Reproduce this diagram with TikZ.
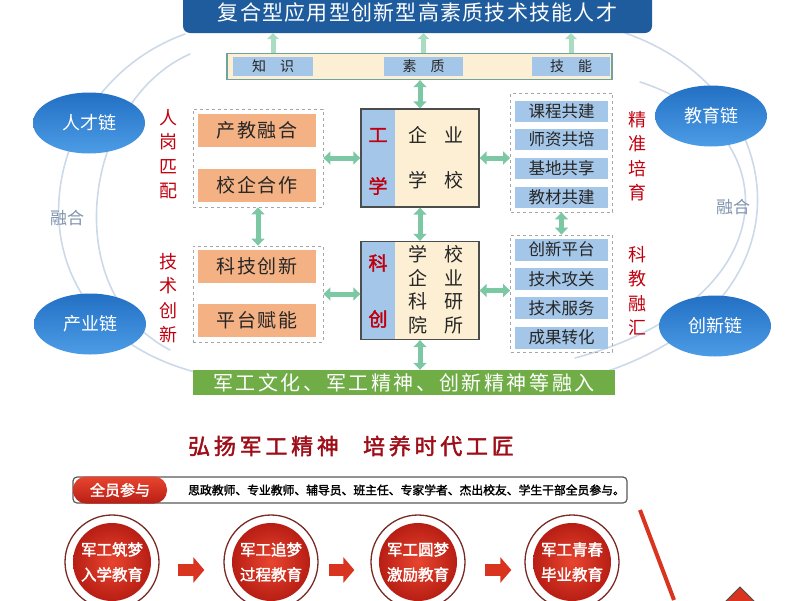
\documentclass[tikz,border=0pt]{standalone}
\usepackage{fontspec}
\setmainfont{Noto Sans CJK SC}[AutoFakeBold=2]
\usetikzlibrary{arrows.meta,shapes.geometric}

\definecolor{BannerBlue}{HTML}{1F5C9E}
\definecolor{CellBlue}{HTML}{A4C6E8}
\definecolor{CreamBg}{HTML}{FCEFD4}
\definecolor{BoxOrange}{HTML}{F4B183}
\definecolor{BarGreen}{HTML}{70AD47}
\definecolor{MintArrow}{HTML}{7CC8A4}
\definecolor{PaleArrow}{HTML}{A9DCC0}
\definecolor{LabelRed}{HTML}{C0000F}
\definecolor{ArcBlue}{HTML}{CCD9E8}
\definecolor{FuseGray}{HTML}{8094AE}
\definecolor{TitleRed}{HTML}{9E0E18}
\definecolor{PillTop}{HTML}{E8452F}
\definecolor{PillBottom}{HTML}{B81E14}
\definecolor{RingRed}{HTML}{7A2A24}
\definecolor{ArrowRed}{HTML}{D9341F}
\definecolor{TealEdge}{HTML}{6FA3A0}
\definecolor{ChainTop}{HTML}{2370C4}
\definecolor{ChainBottom}{HTML}{4C9CE6}
\definecolor{TextDark}{HTML}{262626}

\begin{document}
\begin{tikzpicture}[x=1pt,y=-1pt]
\useasboundingbox (0,0) rectangle (800,600);
\clip (0,0) rectangle (800,600);

% background arcs
\tikzset{ArcStyle/.style = {line width=1.6pt, ArcBlue, line cap=round}}
\draw[ArcStyle] (185,34) .. controls (30,90) and (0,320) .. (195,372);
\draw[ArcStyle] (190,54) .. controls (85,100) and (55,290) .. (170,350);
\draw[ArcStyle] (625,33) .. controls (790,90) and (820,300) .. (605,372);
\draw[ArcStyle] (640,82) .. controls (790,130) and (790,300) .. (575,358);


\tikzset{BannerStyle/.style = {fill=BannerBlue, rounded corners=7pt,
 minimum width=469pt, minimum height=40pt, text=white,
 font=\fontsize{21}{24}\selectfont\addfontfeatures{LetterSpace=6}} }
\tikzset{BarStyle/.style = {draw=TealEdge, line width=1.3pt, fill=CreamBg,
 minimum width=385pt, minimum height=26pt} }
\tikzset{CellStyle/.style = {fill=CellBlue, minimum height=19pt, inner sep=0pt,
 text=TextDark, font=\fontsize{14}{16}\selectfont} }

\node[BannerStyle] (T1) at (417.5,13) {复合型应用型创新型高素质技术技能人才};
\node[BarStyle] (K0) at (419.5,66.5) {};
\node[CellStyle, minimum width=80pt] (K1) at (273,66.5) {知\hspace{1em}识};
\node[CellStyle, minimum width=79pt] (K2) at (423.5,66.5) {素\hspace{1em}质};
\node[CellStyle, minimum width=78pt] (K3) at (571,66.5) {技\hspace{1em}能};


\tikzset{CoreStyle/.style = {draw=black!70, line width=1.3pt, fill=CreamBg,
 minimum width=118pt, minimum height=98pt, inner sep=0pt,
 path picture={\fill[CellBlue] (path picture bounding box.north west)
   rectangle ([xshift=34pt]path picture bounding box.south west);}} }
\tikzset{RedChar/.style = {text=LabelRed, font=\bfseries\fontsize{19}{22}\selectfont} }
\tikzset{CoreText/.style = {text=TextDark, align=center, inner sep=0pt,
 font=\fontsize{19}{23.5}\selectfont} }

\node[CoreStyle] (G1) at (420,158) {};
\node[CoreStyle] (G2) at (420,290.5) {};
\node[RedChar] (G1a) at (378,135) {工};
\node[RedChar] (G1b) at (378,186) {学};
\node[CoreText] (G1c) at (436,135) {企\hspace{0.85em}业};
\node[CoreText] (G1d) at (436,180) {学\hspace{0.85em}校};
\node[RedChar] (G2a) at (378,263) {科};
\node[RedChar] (G2b) at (378,319) {创};
\node[CoreText] (G2c) at (436,289.5) {学\hspace{0.85em}校\\企\hspace{0.85em}业\\科\hspace{0.85em}研\\院\hspace{0.85em}所};


\tikzset{DashStyle/.style = {draw=black!35, dashed, line width=0.8pt, inner sep=0pt} }
\tikzset{OrangeStyle/.style = {fill=BoxOrange, minimum width=118pt, minimum height=33pt,
 text=TextDark, font=\fontsize{19}{22}\selectfont\addfontfeatures{LetterSpace=8}} }
\tikzset{BlueCell/.style = {fill=CellBlue, minimum width=93pt, inner sep=0pt,
 text=TextDark, font=\fontsize{16.5}{19}\selectfont} }

\node[DashStyle, minimum width=130pt, minimum height=98pt] (L1) at (258,158) {};
\node[DashStyle, minimum width=130pt, minimum height=96pt] (L2) at (258,294) {};
\node[OrangeStyle] (L1_1) at (257,130.5) {产教融合};
\node[OrangeStyle] (L1_2) at (257,185) {校企合作};
\node[OrangeStyle] (L2_1) at (257,266.5) {科技创新};
\node[OrangeStyle] (L2_2) at (257,320.5) {平台赋能};

\node[DashStyle, minimum width=102pt, minimum height=119pt] (R1) at (561.5,152.5) {};
\node[DashStyle, minimum width=102pt, minimum height=117pt] (R2) at (561.5,293.5) {};
\node[BlueCell, minimum height=21pt] (R1_1) at (561.5,111) {课程共建};
\node[BlueCell, minimum height=21pt] (R1_2) at (561.5,139.5) {师资共培};
\node[BlueCell, minimum height=21pt] (R1_3) at (561.5,168) {基地共享};
\node[BlueCell, minimum height=21pt] (R1_4) at (561.5,197.5) {教材共建};
\node[BlueCell, minimum height=22pt] (R2_1) at (561.5,249.5) {创新平台};
\node[BlueCell, minimum height=22pt] (R2_2) at (561.5,279) {技术攻关};
\node[BlueCell, minimum height=22pt] (R2_3) at (561.5,308) {技术服务};
\node[BlueCell, minimum height=22pt] (R2_4) at (561.5,337.5) {成果转化};


\tikzset{SideLabel/.style = {text=LabelRed, align=center, font=\fontsize{18}{24.5}\selectfont} }
\node[SideLabel] (S1) at (168,154) {人\\岗\\匹\\配};
\node[SideLabel] (S2) at (168,298) {技\\术\\创\\新};
\node[SideLabel] (S3) at (637,156) {精\\准\\培\\育};
\node[SideLabel] (S4) at (637,291) {科\\教\\融\\汇};


\tikzset{ChainStyle/.style = {ellipse, minimum width=112pt, minimum height=61pt, inner sep=0pt,
 top color=ChainTop, bottom color=ChainBottom, text=white,
 font=\fontsize{18}{20}\selectfont} }
\node[ChainStyle] (E1) at (89,123) {人才链};
\node[ChainStyle] (E2) at (90,324) {产业链};
\node[ChainStyle] (E3) at (711,116) {教育链};
\node[ChainStyle] (E4) at (715,326) {创新链};

\tikzset{FuseStyle/.style = {text=FuseGray, font=\fontsize{17}{20}\selectfont} }
\node[FuseStyle] (F1) at (67,218) {融合};
\node[FuseStyle] (F2) at (733,207) {融合};

\node[fill=BarGreen, minimum width=422pt, minimum height=25pt, inner sep=0pt, text=white,
 font=\fontsize{20}{22}\selectfont\addfontfeatures{LetterSpace=13}]
 (Bar) at (404,382.5) {军工文化、军工精神、创新精神等融入};


\tikzset{PairArrow/.style = {line width=5pt, MintArrow,
 {Triangle[length=7pt,width=13pt]}-{Triangle[length=7pt,width=13pt]}} }
\tikzset{UpArrow/.style = {line width=5pt, PaleArrow, -{Triangle[length=6pt,width=12pt]}} }

\draw[UpArrow] (K1 |- K0.north) -- (K1 |- T1.south);
\draw[UpArrow] (K2 |- K0.north) -- (K2 |- T1.south);
\draw[UpArrow] (K3 |- K0.north) -- (K3 |- T1.south);
\draw[PairArrow] (G1 |- K0.south) -- (G1.north);
\draw[PairArrow] (G1.south) -- (G2.north);
\draw[PairArrow] (G2.south) -- (G2.south |- Bar.north);
\draw[PairArrow] (L1.east) -- (L1.east -| G1.west);
\draw[PairArrow] (L2.east) -- (L2.east -| G2.west);
\draw[PairArrow] (G1.east) -- (G1.east -| R1.west);
\draw[PairArrow] (G2.east) -- (G2.east -| R2.west);
\draw[PairArrow] (L1.south) -- (L2.north);
\draw[PairArrow] (R1.south) -- (R2.north);


% lower part
\node[text=TitleRed, font=\bfseries\fontsize{22}{26}\selectfont\addfontfeatures{LetterSpace=17}]
 (H1) at (351,446) {弘扬军工精神\hspace{1.1em}培养时代工匠};

\node[draw=black!65, line width=1.2pt, rounded corners=4pt, fill=white,
 minimum width=554pt, minimum height=26pt] (N1) at (350,490) {};
\node[top color=PillTop, bottom color=PillBottom, rounded corners=13pt,
 minimum width=94pt, minimum height=27pt, text=white,
 font=\bfseries\fontsize{15}{18}\selectfont] (P1) at (120,490) {全员参与};
\node[anchor=west, inner sep=0pt, text=black, font=\bfseries\fontsize{11.8}{14}\selectfont]
 (N2) at (188,490) {思政教师、专业教师、辅导员、班主任、专家学者、杰出校友、学生干部全员参与。};


\tikzset{RingStyle/.style = {circle, draw=RingRed, line width=1.3pt, fill=white,
 minimum size=94pt, inner sep=0pt} }
\tikzset{DreamStyle/.style = {circle, inner color=PillTop, outer color=PillBottom,
 minimum size=78pt, inner sep=0pt, text=white, align=center,
 font=\bfseries\fontsize{15.5}{25}\selectfont} }
\tikzset{BlockArrow/.style = {line width=12pt, ArrowRed, -{Triangle[length=11pt,width=25pt]}} }

\node[RingStyle] (C1) at (112,562) {};
\node[RingStyle] (C2) at (271,562) {};
\node[RingStyle] (C3) at (418,562) {};
\node[RingStyle] (C4) at (572,562) {};
\node[DreamStyle] (D1) at (C1) {军工筑梦\\入学教育};
\node[DreamStyle] (D2) at (C2) {军工追梦\\过程教育};
\node[DreamStyle] (D3) at (C3) {军工圆梦\\激励教育};
\node[DreamStyle] (D4) at (C4) {军工青春\\毕业教育};

\draw[BlockArrow, shorten <=18pt, shorten >=19pt] ([yshift=-8pt]C1.east) -- ([yshift=-8pt]C2.west);
\draw[BlockArrow, shorten <=10pt, shorten >=16pt] ([yshift=-8pt]C2.east) -- ([yshift=-8pt]C3.west);
\draw[BlockArrow, shorten <=19pt, shorten >=13pt] ([yshift=-8pt]C3.east) -- ([yshift=-8pt]C4.west);

\draw[line width=4pt, ArrowRed] (640,510) -- (674,600);
\filldraw[fill=ArrowRed, draw=black!70, line width=1pt] (740,587) -- (756,603) -- (724,603) -- cycle;

\end{tikzpicture}
\end{document}
